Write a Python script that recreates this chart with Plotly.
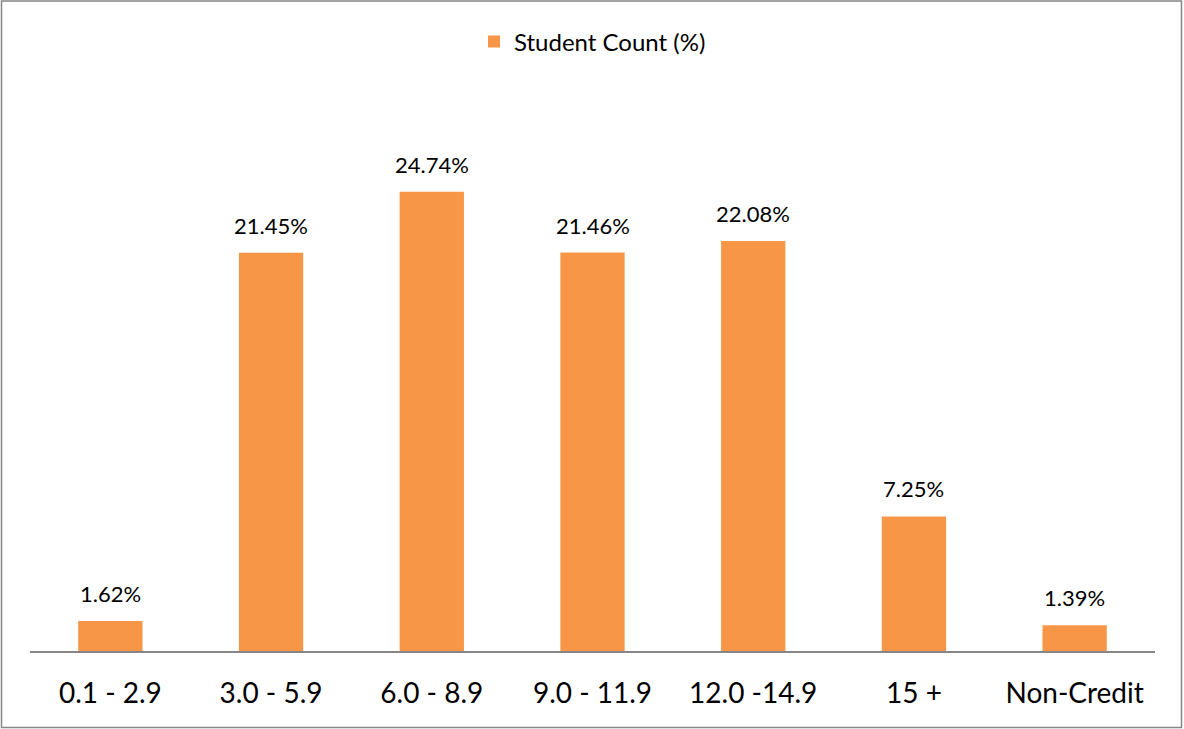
import plotly.graph_objects as go

categories = ["0.1 - 2.9", "3.0 - 5.9", "6.0 - 8.9", "9.0 - 11.9", "12.0 -14.9", "15 +", "Non-Credit"]
student_pct = [1.62, 21.45, 24.74, 21.46, 22.08, 7.25, 1.39]
labels = [f"{v:.2f}%" for v in student_pct]

W, H = 1184, 729
ml, mr, mt, mb = 30, 29, 94, 78
pw, ph = W - ml - mr, H - mt - mb

def px_x(x):
    return (x - ml) / pw

def px_y(y):
    return (H - mb - y) / ph

font_family = "Lato, 'Open Sans', sans-serif"

fig = go.Figure(
    go.Bar(
        x=categories,
        y=student_pct,
        name="Student Count (%)",
        marker=dict(color="#F79646", line=dict(width=0)),
        width=0.4,
    )
)

# value labels above each bar
for cat, val, lab in zip(categories, student_pct, labels):
    fig.add_annotation(
        x=cat,
        y=val,
        text=lab,
        showarrow=False,
        yanchor="bottom",
        yshift=12,
        font=dict(size=22, color="#000000", family=font_family),
    )

fig.update_layout(
    width=W,
    height=H,
    margin=dict(l=ml, r=mr, t=mt, b=mb),
    paper_bgcolor="white",
    plot_bgcolor="white",
    showlegend=True,
    legend=dict(
        orientation="h",
        x=0.5,
        xanchor="center",
        y=px_y(42),
        yanchor="middle",
        font=dict(size=24, color="#000000", family=font_family),
    ),
    xaxis=dict(
        showline=True,
        linecolor="#868686",
        linewidth=2,
        ticks="",
        ticklabelstandoff=16,
        tickfont=dict(size=28, color="#000000", family=font_family),
        showgrid=False,
    ),
    yaxis=dict(
        range=[0, 30],
        visible=False,
        showgrid=False,
    ),
    shapes=[
        dict(
            type="rect",
            xref="paper",
            yref="paper",
            x0=px_x(1.5),
            x1=px_x(1181.5),
            y0=px_y(727.5),
            y1=px_y(1),
            line=dict(color="#868686", width=1.5),
            fillcolor="rgba(0,0,0,0)",
            layer="below",
        )
    ],
)

fig.write_html("out.html")
